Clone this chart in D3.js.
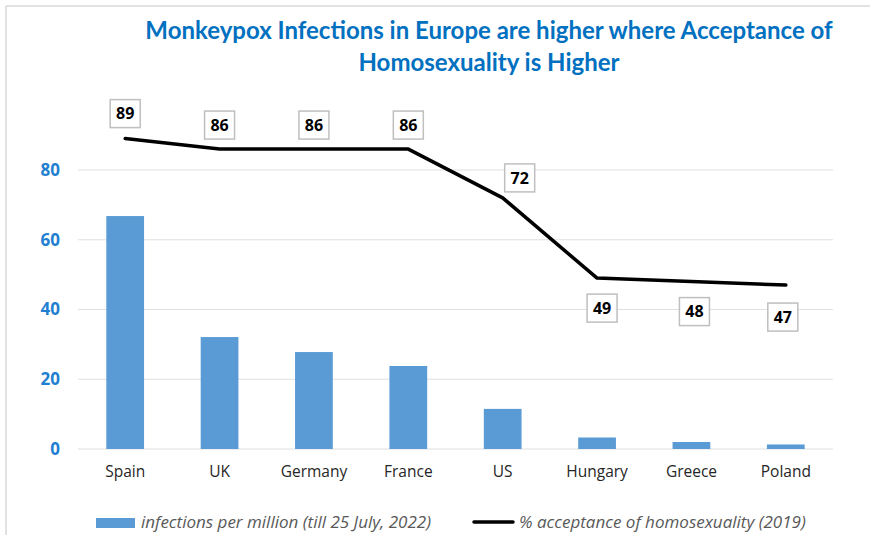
<!DOCTYPE html>
<html lang="en">
<head>
    <meta charset="UTF-8">
    <title>Monkeypox Infections vs Acceptance</title>
    <style>
        body { margin: 0; background: #fff; }
        svg { display: block; }
    </style>
</head>
<body>
    <div id="chart"></div>

    <script src="https://cdn.jsdelivr.net/npm/d3@7"></script>

    <script>
        const countries = ["Spain", "UK", "Germany", "France", "US", "Hungary", "Greece", "Poland"];
        const infections = [66.8, 32.1, 27.8, 23.8, 11.5, 3.3, 2.0, 1.3];
        const acceptance = [89, 86, 86, 86, 72, 49, 48, 47];
        const yTicks = [0, 20, 40, 60, 80];
        const titleLines = ["Monkeypox Infections in Europe are higher where Acceptance of", "Homosexuality is Higher"];
        const legendLabels = ["infections per million (till 25 July, 2022)", "% acceptance of homosexuality (2019)"];

        const W = 875, H = 535;
        const plot = { left: 78, right: 833, top: 100, bottom: 449 };

        const svg = d3.select("#chart").append("svg")
            .attr("width", W)
            .attr("height", H);

        // frame (top + left edges visible)
        svg.append("line").attr("x1", 6).attr("x2", 870).attr("y1", 6).attr("y2", 6)
            .attr("stroke", "#d9d9d9").attr("stroke-width", 1.5);
        svg.append("line").attr("x1", 6).attr("x2", 6).attr("y1", 6).attr("y2", H)
            .attr("stroke", "#d9d9d9").attr("stroke-width", 1.5);

        // title
        svg.append("text")
            .attr("x", 489)
            .attr("text-anchor", "middle")
            .attr("font-family", "Lato, 'Open Sans', sans-serif")
            .attr("font-weight", "bold")
            .attr("font-size", 24)
            .attr("fill", "#0070c0")
            .selectAll("tspan")
            .data(titleLines)
            .enter().append("tspan")
            .attr("x", 489)
            .attr("y", (d, i) => 39 + i * 32)
            .text(d => d);

        const x = d3.scaleBand()
            .domain(countries)
            .range([plot.left, plot.right])
            .paddingInner(0.6)
            .paddingOuter(0.3);

        const y = d3.scaleLinear()
            .domain([0, 100])
            .range([plot.bottom, plot.bottom - 100 * 3.4875]);

        // gridlines
        svg.append("g")
            .selectAll("line")
            .data(yTicks)
            .enter().append("line")
            .attr("x1", plot.left)
            .attr("x2", plot.right)
            .attr("y1", d => y(d))
            .attr("y2", d => y(d))
            .attr("stroke", "#e0e0e0")
            .attr("stroke-width", 1.2);

        // y axis labels
        const yAxis = svg.append("g")
            .attr("transform", `translate(${plot.left},0)`)
            .call(d3.axisLeft(y).tickValues(yTicks).tickSize(0).tickPadding(18));
        yAxis.select(".domain").remove();
        yAxis.selectAll("text")
            .attr("font-family", "'Open Sans', sans-serif")
            .attr("font-weight", "bold")
            .attr("font-size", 17)
            .attr("fill", "#1f7fd0");

        // x axis labels
        const xAxis = svg.append("g")
            .attr("transform", `translate(0,${plot.bottom})`)
            .call(d3.axisBottom(x).tickSize(0).tickPadding(17));
        xAxis.select(".domain").remove();
        xAxis.selectAll("text")
            .attr("font-family", "'Open Sans', sans-serif")
            .attr("font-size", 15.5)
            .attr("fill", "#262626");

        // bars
        svg.append("g")
            .selectAll("rect")
            .data(countries)
            .enter().append("rect")
            .attr("x", d => x(d))
            .attr("y", (d, i) => y(infections[i]))
            .attr("width", x.bandwidth())
            .attr("height", (d, i) => y(0) - y(infections[i]))
            .attr("fill", "#5b9bd5");

        // line
        const cx = d => x(d) + x.bandwidth() / 2;
        const line = d3.line()
            .x(d => cx(d))
            .y((d, i) => y(acceptance[i]));
        svg.append("path")
            .datum(countries)
            .attr("d", line)
            .attr("fill", "none")
            .attr("stroke", "#000")
            .attr("stroke-width", 3.5)
            .attr("stroke-linecap", "round")
            .attr("stroke-linejoin", "round");

        // data labels: above for high values, below for low
        const labelShift = [[0, -25], [0, -24], [0, -24], [0, -24], [17, -20], [5, 30], [3, 30], [-3, 32]];
        const labels = svg.append("g")
            .selectAll("g")
            .data(countries)
            .enter().append("g")
            .attr("transform", (d, i) => `translate(${cx(d) + labelShift[i][0]},${y(acceptance[i]) + labelShift[i][1]})`);
        labels.append("rect")
            .attr("x", -15)
            .attr("y", -14)
            .attr("width", 30)
            .attr("height", 28)
            .attr("fill", "#fff")
            .attr("stroke", "#bfbfbf")
            .attr("stroke-width", 1.5);
        labels.append("text")
            .attr("text-anchor", "middle")
            .attr("dy", "0.36em")
            .attr("font-family", "'Open Sans', sans-serif")
            .attr("font-weight", "bold")
            .attr("font-size", 16)
            .attr("fill", "#000")
            .text((d, i) => acceptance[i]);

        // legend
        const legend = svg.append("g");
        legend.append("rect")
            .attr("x", 96).attr("y", 518).attr("width", 39).attr("height", 10)
            .attr("fill", "#5b9bd5");
        legend.append("text")
            .attr("x", 141).attr("y", 528)
            .attr("font-family", "'Open Sans', sans-serif")
            .attr("font-style", "italic")
            .attr("font-size", 17)
            .attr("fill", "#595959")
            .text(legendLabels[0]);
        legend.append("line")
            .attr("x1", 474).attr("x2", 513).attr("y1", 522).attr("y2", 522)
            .attr("stroke", "#000").attr("stroke-width", 3.5)
            .attr("stroke-linecap", "round");
        legend.append("text")
            .attr("x", 519).attr("y", 528)
            .attr("font-family", "'Open Sans', sans-serif")
            .attr("font-style", "italic")
            .attr("font-size", 17)
            .attr("fill", "#595959")
            .text(legendLabels[1]);
    </script>
</body>
</html>
